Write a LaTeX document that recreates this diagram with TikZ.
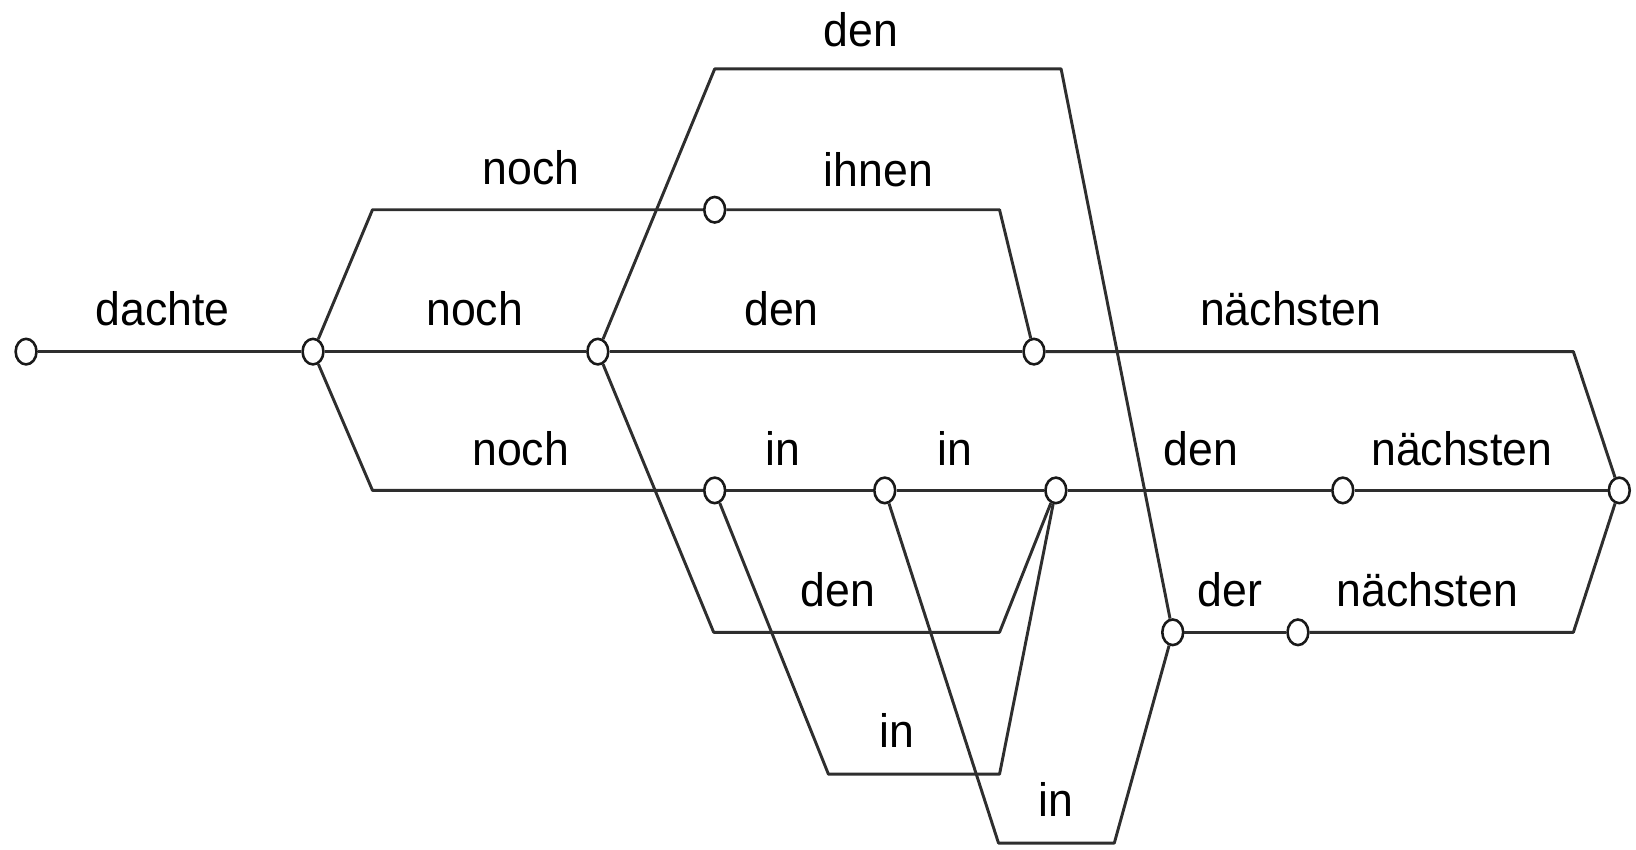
\documentclass[tikz,border=0pt]{standalone}
\usepackage{fontspec}
\setmainfont{Liberation Sans}
\usetikzlibrary{shapes.geometric}
\begin{document}
\begin{tikzpicture}[x=0.01cm,y=-0.01cm,
  st/.style={ellipse, draw=black!90, fill=white, line width=0.7pt, inner sep=0pt, minimum width=0.2cm, minimum height=0.245cm},
  edge/.style={draw=black!82, line width=0.8pt, line join=round},
  lbl/.style={anchor=base, inner sep=0pt, font=\fontsize{12.8}{14}\selectfont, xscale=0.95}]
\useasboundingbox (0,0) rectangle (1568,814);
% states
\node[st] (n0) at (25,337) {};
\node[st] (n1) at (300,337) {};
\node[st] (n2) at (573,337) {};
\node[st] (n3) at (991,337) {};
\node[st] (n4) at (685,201) {};
\node[st] (n5) at (685,470) {};
\node[st] (n6) at (848,470) {};
\node[st] (n7) at (1012,470) {};
\node[st] (n8) at (1287,470) {};
\node[st] (n9) at (1552,470) {};
\node[st] (n10) at (1124,606) {};
\node[st] (n11) at (1244,606) {};
% bends
\coordinate (a1) at (357,201);
\coordinate (a2) at (958,201);
\coordinate (b1) at (357,470);
\coordinate (c1) at (685,66);
\coordinate (c2) at (1017,66);
\coordinate (d1) at (1508,337);
\coordinate (e1) at (684,606);
\coordinate (e2) at (958,606);
\coordinate (f1) at (794,742);
\coordinate (f2) at (958,742);
\coordinate (g1) at (957,808);
\coordinate (g2) at (1068,808);
\coordinate (h1) at (1508,606);
% edges
\draw[edge] (n0) -- (n1);
\draw[edge] (n1) -- (a1) -- (n4);
\draw[edge] (n4) -- (a2) -- (n3);
\draw[edge] (n1) -- (n2);
\draw[edge] (n1) -- (b1) -- (n5);
\draw[edge] (n2) -- (c1) -- (c2) -- (n10);
\draw[edge] (n2) -- (n3);
\draw[edge] (n3) -- (d1) -- (n9);
\draw[edge] (n2) -- (e1) -- (e2) -- (n7);
\draw[edge] (n5) -- (n6);
\draw[edge] (n6) -- (n7);
\draw[edge] (n7) -- (n8);
\draw[edge] (n8) -- (n9);
\draw[edge] (n5) -- (f1) -- (f2) -- (n7);
\draw[edge] (n6) -- (g1) -- (g2) -- (n10);
\draw[edge] (n10) -- (n11);
\draw[edge] (n11) -- (h1) -- (n9);
% labels
\node[lbl] (l1) at (156,312) {dachte};
\node[lbl] (l2) at (509,177) {noch};
\node[lbl] (l3) at (455,312) {noch};
\node[lbl] (l4) at (499,446) {noch};
\node[lbl] (l5) at (825,45) {den};
\node[lbl] (l6) at (842,179) {ihnen};
\node[lbl] (l7) at (749,312) {den};
\node[lbl] (l8) at (1237,312) {nächsten};
\node[lbl] (l9) at (750,446) {in};
\node[lbl] (l10) at (915,446) {in};
\node[lbl] (l11) at (1151,446) {den};
\node[lbl] (l12) at (1401,446) {nächsten};
\node[lbl] (l13) at (803,581) {den};
\node[lbl] (l14) at (1179,581) {der};
\node[lbl] (l15) at (1368,581) {nächsten};
\node[lbl] (l16) at (860,716) {in};
\node[lbl] (l17) at (1012,783) {in};
\end{tikzpicture}
\end{document}
